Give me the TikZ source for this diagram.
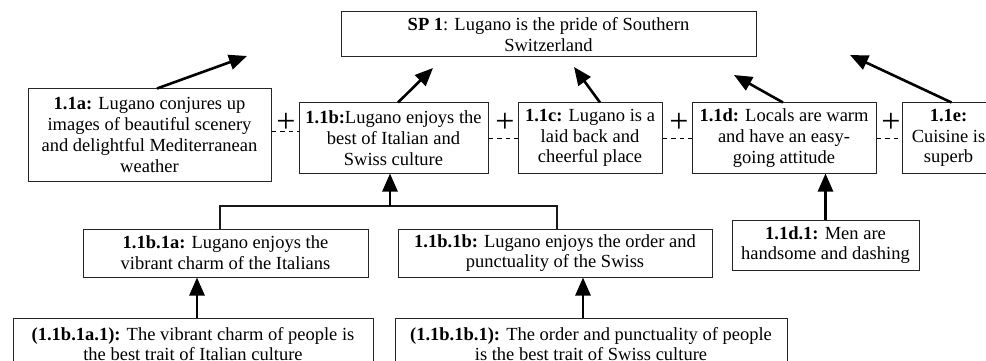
\documentclass[tikz,border=0pt]{standalone}
\usepackage{fontspec}
\setmainfont{Liberation Serif}
\usetikzlibrary{arrows.meta}
\begin{document}
\begin{tikzpicture}[x=1pt,y=-1pt,
  box/.style={draw=black!85, line width=1pt, align=center, inner sep=0pt,
    font=\fontsize{18.5}{20.7}\selectfont},
  arr/.style={line width=2.6pt, -{Triangle[length=18pt,width=15pt]}},
  link/.style={line width=1.1pt, draw=black!90},
  dsh/.style={line width=0.9pt, dash pattern=on 4.5pt off 4pt},
  plus/.style={font=\fontsize{34}{34}\selectfont, inner sep=0pt}]
\useasboundingbox (0,0) rectangle (986,361);
\clip (0,0) rectangle (986,361);

% top claim
\node[box, minimum width=415pt, minimum height=45pt] (sp) at (548.5,34.5)
  {\textbf{SP 1}: Lugano is the pride of Southern\\Switzerland};

% level 1
\node[box, minimum width=243pt, minimum height=92pt] (a) at (149.5,135)
  {\textbf{1.1a:} Lugano conjures up\\images of beautiful scenery\\and delightful Mediterranean\\weather};
\node[box, minimum width=189pt, minimum height=70pt] (b) at (393.5,138)
  {\textbf{1.1b:}Lugano enjoys the\\best of Italian and\\Swiss culture};
\node[box, minimum width=144pt, minimum height=70pt] (c) at (590,138)
  {\textbf{1.1c:} Lugano is a\\laid back and\\cheerful place};
\node[box, minimum width=184pt, minimum height=70pt] (d) at (784,138)
  {\textbf{1.1d:} Locals are warm\\and have an easy-\\going attitude};
\node[box, minimum width=93pt, minimum height=70pt] (e) at (948.5,138)
  {\textbf{1.1e:}\\Cuisine is\\superb};

% level 2
\node[box, minimum width=285pt, minimum height=48pt] (b1a) at (225.5,253)
  {\textbf{1.1b.1a:} Lugano enjoys the\\vibrant charm of the Italians};
\node[box, minimum width=314pt, minimum height=48pt] (b1b) at (555,253)
  {\textbf{1.1b.1b:} Lugano enjoys the order and\\punctuality of the Swiss};
\node[box, minimum width=187pt, minimum height=50pt] (d1) at (825.5,245)
  {\textbf{1.1d.1:} Men are\\handsome and dashing};

% level 3 (cut by the lower edge, as in the reference)
\node[box, minimum width=360pt, minimum height=52pt] (b1a1) at (193,344)
  {\textbf{(1.1b.1a.1):} The vibrant charm of people is\\the best trait of Italian culture};
\node[box, minimum width=392pt, minimum height=52pt] (b1b1) at (591,344)
  {\textbf{(1.1b.1b.1):} The order and punctuality of people\\is the best trait of Swiss culture};

% free arrow ends
\coordinate (ta) at (247,56);
\coordinate (tb) at (433,68);
\coordinate (tc) at (574,67);
\coordinate (td) at (734,75);
\coordinate (te) at (850,55);
\coordinate (j) at (390,206);

\draw[arr] ([xshift=7.5pt]a.north) -- (ta);
\draw[arr] ([xshift=4.5pt]b.north) -- (tb);
\draw[arr] ([xshift=10pt]c.north) -- (tc);
\draw[arr] ([xshift=-1pt]d.north) -- (td);
\draw[arr] ([xshift=3pt]e.north) -- (te);

% linked premises
\draw[link] ([xshift=-5.5pt]b1a.north) |- (j) -| ([xshift=2pt]b1b.north);
\draw[arr] (j) -- (j |- b.south);

\draw[arr] ([xshift=4pt]b1a1.north) -- ([xshift=4pt]b1a1.north |- b1a.south);
\draw[arr] ([xshift=-8pt]b1b1.north) -- ([xshift=-8pt]b1b1.north |- b1b.south);
\draw[arr] (d1.north) -- (d1.north |- d.south);

% plus signs and dashed joins
\node[plus] (p1) at (286,123) {+};
\node[plus] (p2) at (505,123) {+};
\node[plus] (p3) at (679,123) {+};
\node[plus] (p4) at (891,123) {+};
\draw[dsh] (a.east |- 0,131) -- (b.west |- 0,131);
\draw[dsh] (b.east |- 0,138) -- (c.west |- 0,138);
\draw[dsh] (c.east |- 0,138) -- (d.west |- 0,138);
\draw[dsh] (d.east |- 0,138) -- (e.west |- 0,138);
\end{tikzpicture}
\end{document}
